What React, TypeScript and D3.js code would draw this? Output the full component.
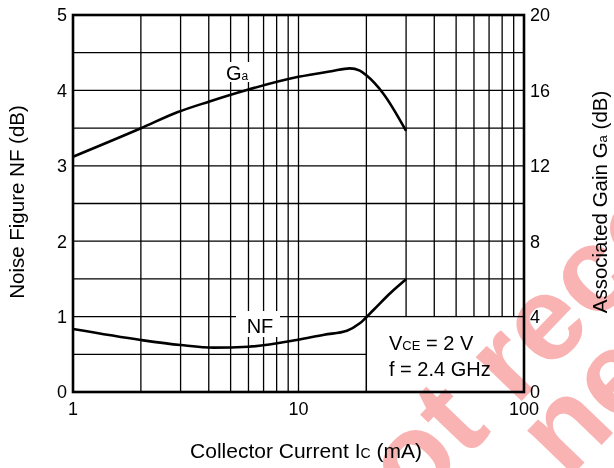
import React from "react";
import * as d3 from "d3";

const xTicks = [1, 10, 100];
const nfTicks = [0, 1, 2, 3, 4, 5];
const gaTicks = [0, 4, 8, 12, 16, 20];
const gridX = [2, 3, 4, 5, 6, 7, 8, 9, 10, 20, 30, 40, 50, 60, 70, 80, 90];
const gridY = [0.5, 1, 1.5, 2, 2.5, 3, 3.5, 4, 4.5];

const gaCurrent = [1, 2, 2.9, 4, 5.9, 10, 14, 16.9, 18.7, 20, 23.7, 30];
const gaValues = [12.48, 13.99, 14.84, 15.4, 16.02, 16.72, 17.02, 17.17, 17.05, 16.8, 15.85, 13.85];

const nfCurrent = [1, 2, 3, 4.2, 6, 9.8, 13, 16.4, 18.7, 21.5, 25.5, 30];
const nfValues = [0.835, 0.69, 0.623, 0.588, 0.6, 0.69, 0.76, 0.813, 0.911, 1.088, 1.31, 1.495];

const watermarkLines = ["not recommended for", "new design"];

const W = 614;
const H = 468;
const L = 73, R = 524, T = 15, B = 392;
const FONT = "'Liberation Sans', Arial, Helvetica, sans-serif";

export default function App() {
  const x = d3.scaleLog().domain([1, 100]).range([L, R]);
  const y = d3.scaleLinear().domain([0, 5]).range([B, T]);
  const y2 = d3.scaleLinear().domain([0, 20]).range([B, T]);

  const line = d3.line<[number, number]>().curve(d3.curveMonotoneX);
  const nfPath = line(nfCurrent.map((c, i) => [x(c), y(nfValues[i])]));
  const gaPath = line(gaCurrent.map((c, i) => [x(c), y2(gaValues[i])]));

  return (
    <svg width={W} height={H} style={{ position: "absolute", left: 0, top: 0, background: "#fff" }} fontFamily={FONT}>
      <rect x={0} y={0} width={W} height={H} fill="#fff" />
      {/* grid */}
      {gridX.map((v) => (
        <line key={"gx" + v} x1={x(v)} x2={x(v)} y1={T} y2={B} stroke="#000" strokeWidth={1.3} />
      ))}
      {gridY.map((v) => (
        <line key={"gy" + v} x1={L} x2={R} y1={y(v)} y2={y(v)} stroke="#000" strokeWidth={1.3} />
      ))}
      {/* condition box */}
      <rect x={x(20)} y={y(1)} width={R - x(20)} height={B - y(1)} fill="#fff" stroke="#000" strokeWidth={1.3} />
      <text x={389} y={350} fontSize={20} fill="#000">
        V<tspan fontSize={13}>CE</tspan> = 2 V
      </text>
      <text x={389} y={376} fontSize={20} fill="#000">f = 2.4 GHz</text>
      {/* curves */}
      <path d={gaPath || ""} fill="none" stroke="#000" strokeWidth={2.6} />
      <path d={nfPath || ""} fill="none" stroke="#000" strokeWidth={2.6} />
      {/* curve labels */}
      <rect x={223} y={62} width={29} height={20} fill="#fff" />
      <text x={226} y={80} fontSize={20} fill="#000">
        G<tspan fontSize={12}>a</tspan>
      </text>
      <rect x={236} y={311} width={44} height={26} fill="#fff" />
      <text x={260} y={333} fontSize={20} textAnchor="middle" fill="#000">NF</text>
      {/* frame */}
      <rect x={L} y={T} width={R - L} height={B - T} fill="none" stroke="#000" strokeWidth={2.6} />
      {/* tick labels */}
      {nfTicks.map((v) => (
        <text key={"l" + v} x={67} y={y(v)} dy="0.36em" fontSize={18} textAnchor="end" fill="#000">{v}</text>
      ))}
      {gaTicks.map((v) => (
        <text key={"r" + v} x={530} y={y2(v)} dy="0.36em" fontSize={18} textAnchor="start" fill="#000">{v}</text>
      ))}
      {xTicks.map((v) => (
        <text key={"b" + v} x={x(v)} y={415} fontSize={18} textAnchor="middle" fill="#000">{v}</text>
      ))}
      {/* axis titles */}
      <text x={306} y={458} fontSize={21} textAnchor="middle" fill="#000">
        Collector Current  I<tspan fontSize={14}>C</tspan> (mA)
      </text>
      <text transform="translate(24,202) rotate(-90)" fontSize={20.5} textAnchor="middle" fill="#000">
        Noise Figure  NF (dB)
      </text>
      <text transform="translate(607,202) rotate(-90)" fontSize={20.5} textAnchor="middle" fill="#000">
        Associated Gain  G<tspan fontSize={13}>a</tspan> (dB)
      </text>
      {/* watermark */}
      <g style={{ mixBlendMode: "multiply" }} fill="#f9b3b3" fontWeight="bold" fontSize={120}>
        <text transform="translate(479,445) rotate(-46)" x={-167}>{watermarkLines[0]}</text>
        <text transform="translate(593,454) rotate(-46)" x={-37}>{watermarkLines[1]}</text>
      </g>
    </svg>
  );
}
